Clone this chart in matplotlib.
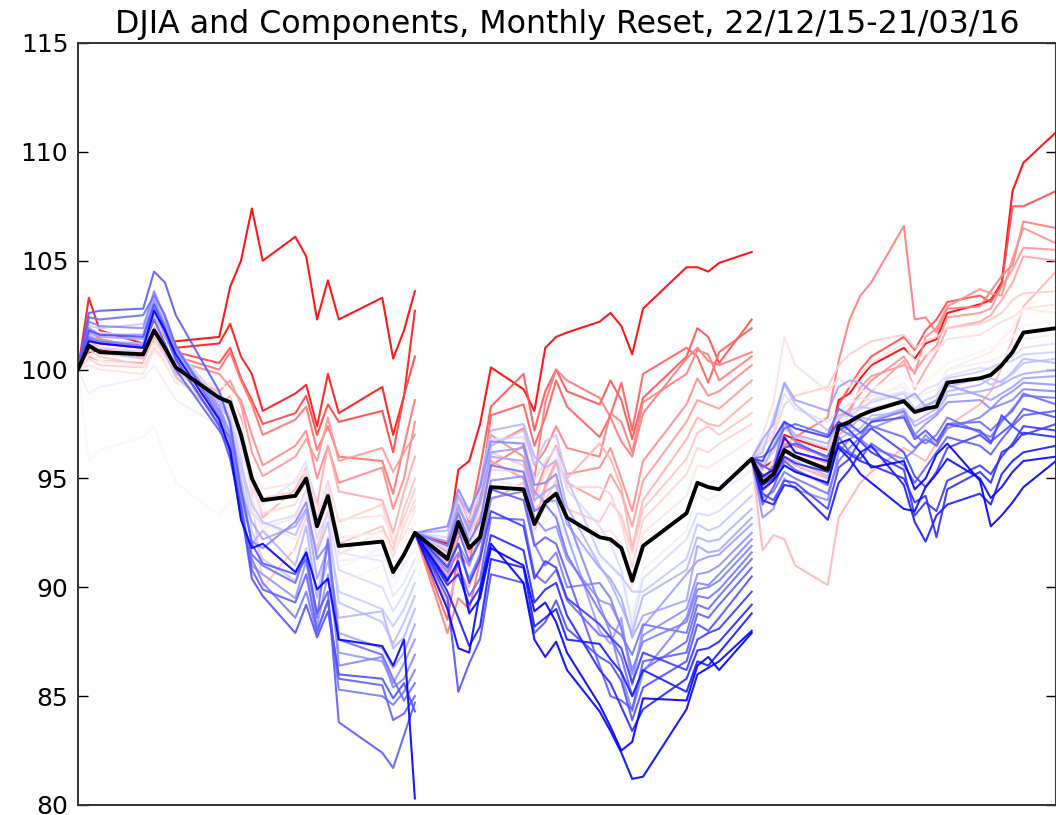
import numpy as np
import matplotlib
matplotlib.use("Agg")
import matplotlib.pyplot as plt
from matplotlib.colors import TwoSlopeNorm

title = "DJIA and Components, Monthly Reset, 22/12/15-21/03/16"

seg1_dates = ["2015-12-22", "2015-12-23", "2015-12-24", "2015-12-28", "2015-12-29", "2015-12-30",
              "2015-12-31", "2016-01-04", "2016-01-05", "2016-01-06", "2016-01-07", "2016-01-08",
              "2016-01-11", "2016-01-12", "2016-01-13", "2016-01-14", "2016-01-15", "2016-01-19",
              "2016-01-20", "2016-01-21", "2016-01-22"]
seg2_dates = ["2016-01-22", "2016-01-25", "2016-01-26", "2016-01-27", "2016-01-28", "2016-01-29",
              "2016-02-01", "2016-02-02", "2016-02-03", "2016-02-04", "2016-02-05", "2016-02-08",
              "2016-02-09", "2016-02-10", "2016-02-11", "2016-02-12", "2016-02-16", "2016-02-17",
              "2016-02-18", "2016-02-19", "2016-02-22"]
seg3_dates = ["2016-02-22", "2016-02-23", "2016-02-24", "2016-02-25", "2016-02-26", "2016-02-29",
              "2016-03-01", "2016-03-02", "2016-03-03", "2016-03-04", "2016-03-07", "2016-03-08",
              "2016-03-09", "2016-03-10", "2016-03-11", "2016-03-14", "2016-03-15", "2016-03-16",
              "2016-03-17", "2016-03-18", "2016-03-21"]

djia_seg1 = [100.0, 101.1, 100.8, 100.7, 101.8, 101.0, 100.1, 98.7, 98.5, 97.0, 95.0, 94.0,
             94.2, 95.0, 92.8, 94.2, 91.9, 92.1, 90.7, 91.5, 92.5]
djia_seg2 = [92.5, 91.3, 93.0, 91.8, 92.3, 94.6, 94.5, 92.9, 93.9, 94.3, 93.2, 92.3,
             92.2, 91.8, 90.3, 91.9, 93.4, 94.8, 94.6, 94.5, 95.9]
djia_seg3 = [95.9, 94.8, 95.2, 96.3, 96.0, 95.4, 97.4, 97.6, 97.9, 98.1, 98.55, 98.05,
             98.2, 98.3, 99.4, 99.6, 99.75, 100.2, 100.8, 101.7, 101.9]

comps_seg1 = [
    [100, 100.8, 100.9, 100.6, 101.5, 101.2, 101.3, 101.5, 103.8, 105.0, 107.4, 105.0, 106.1, 105.2, 102.3, 104.1, 102.3, 103.3, 100.5, 101.8, 103.6],
    [100, 103.3, 101.8, 101.2, 102.0, 101.5, 101.0, 101.2, 102.1, 100.6, 99.8, 98.1, 98.9, 99.3, 97.4, 99.8, 98.0, 99.2, 97.0, 98.8, 102.7],
    [100, 101.0, 101.2, 100.9, 102.2, 101.5, 100.8, 100.3, 101.0, 99.6, 98.6, 97.5, 98.0, 98.8, 97.0, 98.4, 97.6, 98.1, 96.2, 98.8, 100.6],
    [100, 101.8, 101.4, 101.0, 102.0, 101.2, 100.6, 100.0, 100.8, 99.5, 98.4, 97.0, 97.7, 98.3, 96.3, 97.4, 96.0, 95.8, 94.3, 96.5, 98.6],
    [100, 101.2, 101.0, 100.8, 101.9, 101.3, 100.4, 99.8, 99.2, 98.6, 97.0, 95.6, 96.5, 97.2, 95.0, 96.5, 94.8, 95.5, 93.6, 95.0, 97.6],
    [100, 100.6, 100.4, 100.3, 101.6, 100.8, 99.8, 99.0, 99.5, 98.4, 96.2, 95.1, 96.0, 96.8, 95.8, 97.8, 95.8, 96.4, 95.3, 96.2, 97.0],
    [100, 101.4, 101.0, 100.6, 101.5, 100.8, 99.6, 98.3, 98.8, 97.8, 95.0, 93.2, 94.5, 95.5, 93.8, 96.5, 94.4, 94.0, 92.5, 94.4, 96.0],
    [100, 100.9, 100.6, 100.2, 101.3, 100.6, 99.9, 98.9, 97.9, 97.2, 94.3, 90.0, 91.8, 93.2, 91.8, 93.5, 92.0, 92.8, 91.7, 93.6, 95.0],
    [100, 100.5, 100.2, 100.1, 101.0, 100.4, 99.5, 98.5, 98.3, 96.8, 95.2, 94.1, 94.4, 95.3, 93.2, 94.9, 93.0, 93.8, 92.0, 93.2, 94.5],
    [100, 101.6, 101.3, 101.0, 102.4, 101.3, 100.5, 99.0, 98.2, 96.8, 94.6, 93.4, 93.8, 94.8, 92.2, 94.0, 91.5, 92.6, 91.4, 92.8, 94.0],
    [100, 100.2, 100.0, 99.8, 100.9, 100.3, 99.4, 98.6, 98.0, 96.9, 95.4, 94.5, 94.8, 95.4, 93.6, 94.6, 93.1, 93.3, 92.3, 92.9, 93.7],
    [100, 101.3, 100.7, 100.5, 101.6, 100.9, 100.0, 98.2, 97.8, 96.1, 93.6, 92.7, 93.2, 94.1, 92.9, 94.3, 92.3, 92.5, 91.6, 92.4, 93.5],
    [100, 100.7, 100.4, 100.2, 101.2, 100.5, 99.5, 98.0, 97.4, 95.7, 93.5, 92.5, 91.6, 93.0, 91.0, 92.8, 90.9, 91.8, 90.6, 91.9, 93.0],
    [100, 101.5, 101.1, 100.9, 102.1, 101.3, 100.3, 99.4, 99.0, 97.5, 95.6, 93.8, 94.0, 94.5, 92.5, 93.8, 91.9, 92.5, 91.0, 91.8, 92.6],
    [100, 95.8, 96.3, 96.9, 97.4, 96.0, 94.8, 93.3, 94.0, 92.8, 91.8, 90.3, 89.5, 90.5, 89.7, 91.2, 90.2, 91.0, 90.0, 91.0, 92.2],
    [100, 98.9, 99.2, 99.6, 100.2, 99.4, 98.6, 97.4, 97.0, 95.5, 94.1, 93.0, 92.2, 93.6, 91.5, 93.0, 91.2, 91.5, 90.4, 91.0, 91.8],
    [100, 101.9, 101.7, 101.5, 102.6, 101.6, 100.6, 98.7, 98.2, 96.4, 94.6, 93.8, 94.9, 95.8, 93.0, 94.6, 91.6, 91.2, 89.6, 90.2, 91.3],
    [100, 101.2, 101.0, 100.8, 101.9, 101.0, 100.0, 98.2, 97.3, 95.5, 93.4, 92.9, 93.3, 94.5, 92.3, 93.4, 90.8, 90.0, 88.9, 89.7, 90.8],
    [100, 102.0, 101.9, 102.1, 103.2, 102.2, 101.0, 98.6, 97.8, 95.9, 92.6, 91.3, 90.3, 91.8, 89.6, 92.3, 89.8, 89.0, 88.2, 89.0, 90.2],
    [100, 101.0, 100.8, 100.5, 101.7, 100.8, 99.7, 97.8, 97.2, 95.6, 93.8, 93.0, 92.4, 93.5, 91.6, 93.0, 89.3, 88.4, 87.4, 88.4, 89.6],
    [100, 101.6, 101.3, 101.2, 102.5, 101.6, 100.5, 98.5, 97.6, 95.0, 92.0, 92.6, 91.0, 92.8, 89.5, 91.2, 88.6, 88.9, 87.2, 87.7, 89.0],
    [100, 101.7, 101.5, 101.4, 103.0, 102.0, 100.8, 98.0, 97.1, 94.4, 93.0, 92.2, 92.8, 93.6, 90.4, 91.8, 87.9, 87.2, 86.3, 87.0, 88.3],
    [100, 101.9, 101.6, 101.6, 103.2, 102.1, 100.9, 98.3, 97.0, 94.0, 91.0, 90.6, 89.5, 91.2, 88.2, 90.6, 87.0, 86.6, 85.6, 86.5, 87.6],
    [100, 102.2, 102.0, 101.9, 103.6, 102.4, 101.0, 98.1, 96.6, 94.3, 92.1, 91.8, 93.0, 93.9, 91.3, 92.0, 86.4, 86.8, 85.4, 85.8, 86.9],
    [100, 101.5, 101.3, 101.1, 102.8, 101.7, 100.4, 97.5, 96.9, 93.5, 91.3, 90.2, 88.6, 89.8, 87.9, 89.4, 85.3, 85.0, 84.6, 85.2, 86.2],
    [100, 102.4, 102.3, 102.5, 103.4, 102.5, 101.1, 97.8, 96.2, 93.2, 91.5, 91.0, 90.2, 91.6, 88.6, 92.2, 87.6, 86.9, 85.8, 84.8, 85.6],
    [100, 101.4, 101.2, 101.0, 102.3, 101.2, 100.0, 97.2, 96.4, 93.7, 90.8, 89.9, 89.3, 90.6, 88.0, 89.4, 85.8, 85.5, 83.9, 84.2, 85.0],
    [100, 102.6, 102.7, 102.8, 104.5, 104.0, 102.5, 99.0, 97.5, 94.5, 92.0, 91.1, 90.6, 91.3, 88.8, 89.8, 83.8, 82.4, 81.7, 83.2, 84.7],
    [100, 101.8, 101.6, 101.5, 103.0, 101.9, 100.5, 97.4, 95.9, 93.6, 90.4, 89.6, 87.9, 89.2, 87.7, 88.9, 86.0, 85.8, 84.9, 85.6, 84.3],
    [100, 101.3, 101.2, 101.0, 102.7, 101.8, 100.7, 97.7, 96.3, 93.1, 91.8, 92.0, 90.7, 91.6, 89.9, 90.4, 87.6, 87.3, 86.4, 87.6, 80.3],
]

comps_seg2 = [
    [92.5, 92.0, 95.4, 95.8, 97.5, 100.1, 99.1, 98.1, 101.0, 101.5, 101.7, 102.2, 102.6, 102.0, 100.7, 102.8, 104.7, 104.7, 104.5, 104.9, 105.4],
    [92.5, 91.2, 94.2, 93.0, 95.5, 98.3, 99.8, 97.2, 99.0, 100.0, 99.0, 98.4, 99.5, 98.6, 96.8, 98.7, 100.6, 101.9, 101.5, 100.3, 102.3],
    [92.5, 88.5, 91.5, 91.0, 94.0, 97.9, 98.4, 96.5, 97.8, 99.5, 98.3, 96.9, 97.9, 99.4, 97.2, 99.8, 101.0, 100.6, 99.4, 100.8, 101.9],
    [92.5, 87.9, 89.5, 89.0, 91.2, 95.6, 96.5, 95.0, 98.5, 100.0, 99.5, 98.7, 97.8, 96.7, 96.0, 98.0, 100.5, 101.0, 100.4, 100.2, 100.8],
    [92.5, 90.2, 92.3, 92.7, 93.8, 96.5, 97.3, 95.6, 96.3, 97.4, 96.4, 96.0, 98.0, 97.6, 96.2, 98.5, 99.8, 100.9, 100.7, 99.5, 100.6],
    [92.5, 91.6, 93.7, 92.5, 94.5, 97.0, 96.0, 94.2, 95.6, 96.5, 95.2, 95.5, 96.4, 95.0, 93.5, 95.8, 98.4, 99.6, 98.8, 99.0, 100.2],
    [92.5, 90.5, 92.8, 91.6, 93.3, 95.8, 95.0, 92.8, 94.7, 95.8, 94.8, 94.0, 95.2, 94.3, 92.8, 94.9, 97.6, 98.6, 98.4, 98.2, 99.5],
    [92.5, 89.2, 90.8, 90.0, 91.5, 94.0, 94.8, 92.5, 94.5, 95.7, 95.0, 96.6, 95.9, 94.6, 91.8, 94.0, 96.8, 97.8, 97.5, 97.4, 98.7],
    [92.5, 91.0, 93.0, 92.2, 93.7, 96.2, 95.6, 93.6, 94.0, 94.9, 93.6, 93.0, 93.9, 93.3, 91.6, 93.6, 95.9, 97.1, 97.4, 97.0, 98.0],
    [92.5, 90.8, 92.0, 90.9, 92.9, 95.4, 95.3, 93.9, 95.3, 95.9, 94.6, 94.6, 94.3, 93.0, 90.9, 93.1, 95.2, 96.4, 96.2, 96.6, 97.5],
    [92.5, 91.8, 93.5, 92.3, 93.5, 95.0, 94.6, 92.8, 93.6, 94.5, 93.1, 92.5, 92.6, 92.0, 90.0, 92.5, 94.2, 95.6, 95.5, 95.8, 96.8],
    [92.5, 91.4, 93.1, 91.9, 92.6, 94.8, 94.2, 92.4, 93.4, 93.8, 92.6, 91.8, 91.6, 91.2, 89.6, 91.8, 93.3, 94.8, 94.5, 94.7, 96.0],
    [92.5, 91.5, 93.2, 92.0, 92.9, 95.0, 94.5, 92.5, 93.0, 93.4, 92.1, 91.3, 91.0, 90.3, 88.6, 90.8, 92.6, 94.3, 94.0, 94.3, 95.4],
    [92.5, 92.3, 94.0, 93.1, 94.4, 96.8, 96.9, 94.9, 95.8, 96.4, 94.5, 92.8, 92.0, 90.8, 88.2, 90.4, 92.2, 93.4, 93.3, 93.5, 94.8],
    [92.5, 91.7, 93.2, 92.4, 93.8, 96.5, 97.2, 95.6, 96.7, 97.0, 95.0, 91.5, 91.0, 90.5, 89.8, 89.8, 91.3, 92.9, 92.6, 92.8, 94.2],
    [92.5, 92.6, 94.2, 93.4, 94.8, 97.2, 97.5, 96.0, 95.5, 95.8, 93.7, 91.0, 90.2, 89.1, 87.9, 89.6, 90.8, 92.3, 92.1, 92.2, 93.6],
    [92.5, 91.3, 93.6, 92.8, 94.0, 96.0, 95.8, 94.0, 94.4, 94.7, 92.9, 90.9, 90.4, 89.5, 87.7, 88.7, 89.4, 91.9, 91.6, 91.7, 93.2],
    [92.5, 92.1, 93.8, 92.6, 93.9, 96.2, 96.4, 94.4, 93.9, 94.0, 92.4, 88.0, 87.4, 88.6, 85.5, 88.2, 90.6, 91.2, 91.4, 91.5, 92.9],
    [92.5, 91.0, 92.0, 91.0, 92.3, 94.9, 95.1, 93.2, 92.6, 92.8, 91.3, 89.4, 89.2, 88.2, 86.0, 87.8, 89.0, 90.6, 90.7, 91.0, 92.5],
    [92.5, 92.8, 94.5, 93.5, 94.6, 96.7, 96.6, 94.7, 94.8, 95.2, 93.2, 89.2, 87.9, 86.0, 84.3, 86.1, 88.6, 90.2, 90.1, 90.6, 92.2],
    [92.5, 90.7, 91.6, 90.4, 91.5, 94.1, 94.4, 92.0, 91.0, 91.6, 90.0, 90.2, 89.5, 88.1, 86.2, 87.5, 88.4, 89.9, 90.0, 90.3, 91.9],
    [92.5, 91.9, 93.4, 92.1, 93.0, 95.6, 95.3, 93.5, 93.8, 93.2, 91.5, 88.9, 88.2, 87.8, 86.9, 88.3, 87.9, 89.6, 89.5, 89.9, 91.6],
    [92.5, 90.4, 91.0, 89.6, 90.4, 93.2, 93.1, 90.6, 90.2, 90.8, 89.4, 87.8, 87.7, 86.8, 85.0, 86.2, 87.5, 89.2, 89.0, 89.6, 91.3],
    [92.5, 91.4, 92.6, 91.2, 92.1, 94.5, 94.0, 91.9, 92.3, 92.0, 90.6, 86.4, 85.0, 84.8, 84.4, 86.6, 87.0, 88.8, 88.6, 89.2, 90.9],
    [92.5, 89.5, 85.2, 86.5, 87.6, 90.6, 90.2, 87.9, 88.4, 89.4, 88.1, 86.8, 86.5, 85.7, 83.9, 85.4, 86.6, 88.3, 88.0, 88.6, 90.5],
    [92.5, 90.9, 92.0, 90.2, 91.3, 93.5, 92.8, 90.4, 91.2, 90.9, 89.5, 88.3, 87.7, 87.2, 85.6, 87.0, 86.2, 87.6, 87.9, 88.1, 89.8],
    [92.5, 90.1, 90.6, 89.2, 90.0, 92.4, 91.7, 89.3, 89.9, 90.2, 88.7, 86.2, 85.6, 84.5, 83.4, 84.4, 85.8, 87.1, 87.2, 87.5, 89.2],
    [92.5, 89.8, 88.6, 87.3, 88.2, 91.3, 90.9, 88.2, 88.6, 89.0, 87.6, 87.4, 86.7, 86.1, 85.0, 86.2, 85.2, 86.6, 86.4, 87.0, 88.8],
    [92.5, 89.0, 87.2, 87.0, 89.8, 92.0, 90.2, 87.6, 86.8, 87.5, 86.2, 84.3, 83.4, 82.4, 81.2, 81.3, 84.4, 86.0, 86.3, 86.6, 88.0],
    [92.5, 90.3, 91.2, 88.8, 89.5, 91.8, 91.0, 88.9, 89.3, 88.4, 87.0, 84.6, 83.6, 82.5, 82.9, 84.9, 84.8, 86.4, 86.8, 86.2, 87.9],
]

comps_seg3 = [
    [95.9, 95.5, 95.8, 97.0, 96.8, 96.3, 98.6, 98.9, 99.6, 100.2, 101.0, 100.5, 101.2, 101.4, 102.6, 103.0, 103.2, 104.0, 108.2, 109.5, 110.9],
    [95.9, 95.0, 95.6, 96.8, 96.5, 95.9, 98.4, 99.2, 100.0, 100.6, 101.5, 100.9, 101.8, 102.3, 103.1, 103.4, 103.1, 103.9, 107.5, 107.5, 108.2],
    [95.9, 94.6, 95.3, 96.5, 96.9, 97.8, 100.4, 102.3, 103.4, 104.0, 106.6, 102.3, 102.4, 101.7, 102.8, 102.9, 103.6, 104.3, 104.8, 106.8, 106.5],
    [95.9, 95.2, 95.0, 96.2, 96.0, 95.5, 97.7, 98.2, 98.9, 99.5, 100.6, 99.8, 101.5, 101.9, 102.9, 103.7, 103.5, 103.4, 105.1, 106.5, 105.8],
    [95.9, 94.9, 95.4, 96.6, 96.2, 95.7, 97.9, 98.0, 99.2, 99.7, 100.2, 99.9, 100.6, 101.1, 102.4, 102.6, 102.8, 103.8, 104.6, 105.6, 105.5],
    [95.9, 94.4, 94.9, 95.9, 95.6, 95.0, 97.0, 97.4, 98.4, 99.0, 100.4, 99.1, 100.0, 100.8, 101.9, 102.2, 102.5, 103.2, 104.0, 105.2, 105.0],
    [95.9, 91.7, 92.4, 92.2, 91.0, 90.1, 93.2, 94.0, 94.8, 95.3, 96.4, 96.1, 95.8, 96.6, 97.4, 98.4, 99.0, 100.1, 101.4, 102.9, 104.5],
    [95.9, 96.4, 97.0, 98.4, 98.8, 99.2, 100.2, 100.7, 101.0, 101.3, 101.6, 101.0, 101.3, 101.5, 101.9, 102.1, 102.3, 102.6, 103.2, 103.5, 103.6],
    [95.9, 97.0, 98.5, 101.5, 100.2, 99.0, 99.6, 99.2, 99.8, 100.3, 101.2, 100.4, 100.7, 100.9, 101.4, 101.6, 101.9, 102.2, 102.4, 102.8, 103.0],
    [95.9, 94.2, 94.6, 95.8, 95.3, 94.6, 97.4, 97.6, 98.3, 98.8, 99.2, 97.7, 98.3, 98.9, 100.0, 100.6, 100.8, 101.4, 101.9, 102.8, 102.6],
    [95.9, 94.9, 95.9, 96.9, 96.6, 96.2, 98.0, 98.5, 99.0, 99.1, 99.8, 99.2, 99.5, 99.8, 100.3, 100.8, 101.0, 101.2, 101.5, 102.0, 102.2],
    [95.9, 95.3, 95.7, 96.3, 96.4, 95.9, 97.5, 97.9, 98.1, 98.6, 99.4, 98.6, 98.9, 99.1, 100.0, 100.3, 100.4, 100.6, 101.0, 101.4, 101.6],
    [95.9, 96.6, 97.2, 98.9, 98.2, 97.6, 98.1, 98.4, 98.7, 98.6, 99.0, 98.7, 99.1, 99.3, 99.7, 100.1, 100.0, 100.3, 100.6, 101.0, 101.2],
    [95.9, 95.7, 96.2, 97.3, 96.9, 96.4, 97.8, 97.9, 98.2, 98.5, 98.9, 98.2, 98.6, 98.8, 99.6, 99.9, 100.1, 100.3, 100.4, 100.7, 100.8],
    [95.9, 96.2, 97.8, 99.3, 98.4, 97.2, 97.9, 98.1, 98.3, 98.2, 98.6, 98.1, 98.4, 98.5, 99.2, 99.6, 99.3, 99.5, 99.8, 100.3, 100.5],
    [95.9, 94.6, 95.1, 96.0, 95.8, 95.1, 96.8, 97.1, 97.3, 97.9, 98.0, 97.6, 97.9, 98.2, 99.0, 99.3, 99.6, 99.4, 99.9, 100.5, 100.3],
    [95.9, 95.4, 96.5, 97.6, 97.0, 96.6, 97.6, 97.3, 97.8, 97.7, 98.2, 97.4, 97.7, 98.0, 98.8, 99.0, 99.1, 99.3, 99.6, 99.8, 100.0],
    [95.9, 96.8, 97.5, 99.4, 98.6, 98.1, 99.2, 99.5, 99.4, 99.0, 98.6, 98.9, 98.3, 98.6, 99.3, 98.8, 98.6, 98.9, 99.2, 99.6, 99.7],
    [95.9, 93.2, 93.6, 95.0, 94.5, 94.0, 96.2, 96.8, 97.1, 97.3, 97.9, 97.0, 97.5, 97.9, 98.5, 98.6, 98.2, 98.7, 99.0, 99.4, 99.3],
    [95.9, 95.0, 95.5, 97.6, 96.7, 95.9, 97.3, 97.0, 96.8, 96.4, 95.9, 96.3, 97.0, 96.5, 97.3, 97.8, 98.2, 98.4, 98.6, 99.1, 99.0],
    [95.9, 94.1, 94.4, 95.3, 95.0, 94.3, 95.8, 96.4, 96.9, 97.6, 98.1, 97.0, 96.6, 97.0, 97.8, 97.1, 96.9, 97.6, 98.2, 98.8, 98.7],
    [95.9, 96.0, 96.4, 97.3, 97.5, 97.0, 98.2, 97.9, 97.7, 97.4, 96.9, 96.4, 96.8, 96.5, 97.5, 97.6, 97.2, 97.7, 98.1, 98.9, 98.4],
    [95.9, 93.8, 94.6, 95.8, 95.4, 94.7, 96.9, 96.2, 95.9, 96.6, 95.6, 94.8, 95.5, 96.2, 96.9, 96.5, 96.1, 96.8, 97.4, 97.9, 98.1],
    [95.9, 95.6, 95.3, 96.4, 96.6, 96.0, 97.2, 97.5, 97.1, 97.6, 97.8, 96.8, 97.2, 96.7, 97.5, 97.2, 96.7, 97.1, 97.5, 98.2, 97.8],
    [95.9, 94.3, 94.0, 94.9, 94.8, 93.6, 95.5, 95.9, 96.8, 97.3, 96.2, 95.1, 94.6, 95.3, 96.4, 97.0, 96.6, 97.9, 97.4, 97.0, 97.5],
    [95.9, 95.8, 96.8, 97.6, 97.3, 96.9, 97.6, 97.2, 96.7, 96.2, 95.4, 93.3, 93.9, 93.5, 94.9, 95.6, 95.2, 96.0, 96.6, 97.4, 97.2],
    [95.9, 94.7, 95.0, 96.0, 95.7, 95.3, 96.5, 96.1, 95.8, 95.6, 95.0, 93.9, 94.2, 92.3, 94.5, 95.3, 94.8, 96.2, 96.5, 97.1, 96.9],
    [95.9, 94.0, 93.8, 94.7, 94.6, 93.1, 94.8, 95.4, 96.2, 96.5, 94.7, 93.0, 92.1, 93.3, 93.8, 94.3, 93.8, 95.2, 95.8, 96.2, 96.5],
    [95.9, 95.1, 95.4, 96.9, 96.2, 95.8, 96.4, 95.9, 95.2, 94.8, 93.6, 93.5, 94.6, 95.2, 95.9, 95.0, 94.1, 94.6, 95.3, 95.8, 96.0],
    [95.9, 94.5, 94.9, 95.6, 95.3, 94.8, 96.6, 96.8, 96.2, 95.5, 95.8, 94.5, 95.0, 96.1, 96.6, 94.9, 92.8, 93.3, 93.9, 94.6, 95.8],
]

y_ticks = [80, 85, 90, 95, 100, 105, 110, 115]

W, H = 1056, 815
fig = plt.figure(figsize=(W / 100, H / 100), dpi=100)
fig.patch.set_facecolor("white")
ax = fig.add_axes([78 / W, (H - 805) / H, (W - 78) / W, (805 - 43) / H])

cmap = plt.get_cmap("bwr")
segments = [(seg1_dates, comps_seg1, djia_seg1),
            (seg2_dates, comps_seg2, djia_seg2),
            (seg3_dates, comps_seg3, djia_seg3)]
for dates, comps, djia in segments:
    d = np.array(dates, dtype="datetime64[D]")
    finals = [c[-1] for c in comps]
    norm = TwoSlopeNorm(vcenter=djia[-1], vmin=min(finals), vmax=max(finals))
    for c in comps:
        ax.plot(d, c, color=cmap(norm(c[-1])), lw=1.5, alpha=0.9)

all_dates = np.array(seg1_dates + seg2_dates[1:] + seg3_dates[1:], dtype="datetime64[D]")
all_djia = djia_seg1 + djia_seg2[1:] + djia_seg3[1:]
ax.plot(all_dates, all_djia, color="black", lw=2.8, zorder=5)

ax.set_xlim(np.datetime64("2015-12-22"), np.datetime64("2016-03-21"))
ax.set_ylim(80, 115)
ax.set_yticks(y_ticks)
ax.set_xticks([])
ax.tick_params(axis="y", direction="in", length=7, width=1, left=True, right=True,
               labelsize=18, pad=7)
for s in ax.spines.values():
    s.set_linewidth(1.4)
    s.set_color("#333333")
ax.set_title(title, fontsize=22.8, pad=7)

fig.savefig("out.png", dpi=100, facecolor="white")
